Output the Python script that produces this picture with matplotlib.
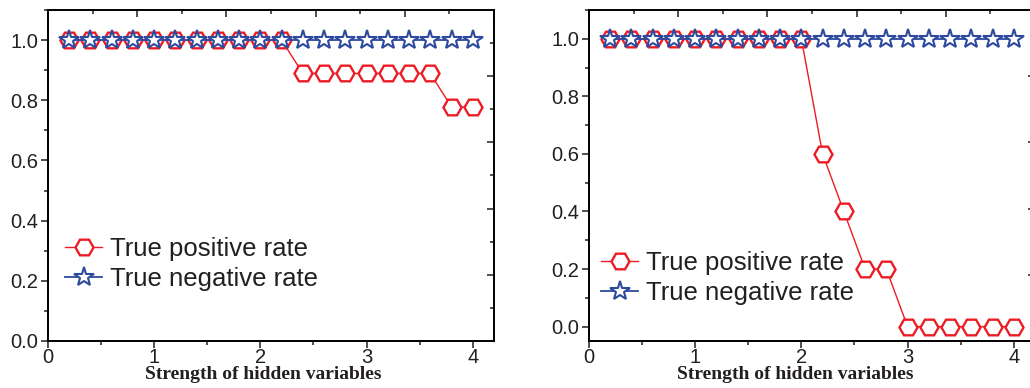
import matplotlib
matplotlib.use('Agg')
from matplotlib import pyplot as plt
from matplotlib.ticker import MultipleLocator

# data
strength = [0.2, 0.4, 0.6, 0.8, 1.0, 1.2, 1.4, 1.6, 1.8, 2.0,
            2.2, 2.4, 2.6, 2.8, 3.0, 3.2, 3.4, 3.6, 3.8, 4.0]
tpr_left = [1, 1, 1, 1, 1, 1, 1, 1, 1, 1,
            1, 0.889, 0.889, 0.889, 0.889, 0.889, 0.889, 0.889, 0.778, 0.778]
tnr_left = [1.0] * 20
tpr_right = [1, 1, 1, 1, 1, 1, 1, 1, 1, 1,
             0.6, 0.4, 0.2, 0.2, 0, 0, 0, 0, 0, 0]
tnr_right = [1.0] * 20

RED = '#ED1C24'
BLUE = '#2E4A9E'
INK = '#231F20'

plt.rcParams['font.family'] = ['Liberation Sans', 'DejaVu Sans']
plt.rcParams['axes.linewidth'] = 1.1
plt.rcParams['text.color'] = INK

fig = plt.figure(figsize=(10.3, 3.88), dpi=100)
W, H = 1030.0, 388.0
ax1 = fig.add_axes([48 / W, 47 / H, 446 / W, 331 / H])
ax2 = fig.add_axes([589 / W, 47 / H, 446 / W, 331 / H])


def draw(ax, tpr, tnr, ylim, xlab_x, leg_xy):
    ax.plot(strength, tpr, color=RED, lw=1.0, marker='H', ms=13,
            mfc='white', mec=RED, mew=1.7, label='True positive rate')
    ax.plot(strength, tnr, color=BLUE, lw=1.3, marker='*', ms=14.5,
            mfc='white', mec=BLUE, mew=1.5, label='True negative rate')
    ax.set_xlim(0, 4.2)
    ax.set_ylim(*ylim)
    ax.xaxis.set_major_locator(MultipleLocator(1))
    ax.xaxis.set_minor_locator(MultipleLocator(0.5))
    ax.yaxis.set_major_locator(MultipleLocator(0.2))
    ax.yaxis.set_minor_locator(MultipleLocator(0.1))
    ax.yaxis.set_major_formatter(plt.FormatStrFormatter('%.1f'))
    ax.tick_params(which='major', direction='out', length=5, width=1.1,
                   labelsize=14.5, labelcolor=INK, color=INK, pad=2)
    ax.tick_params(which='minor', direction='out', length=3, width=1.1,
                   color=INK)
    ax.tick_params(axis='x', which='major', pad=0)
    for s in ax.spines.values():
        s.set_color(INK)
    ax.set_xlabel('Strength of hidden variables', family='Liberation Serif',
                  fontweight='bold', fontsize=14, color=INK)
    ax.xaxis.set_label_coords(xlab_x, -0.076)

    # mirror axes on top and right with plain 10-step ticks
    top = ax.twiny()
    top.set_xlim(0, 1)
    top.xaxis.set_major_locator(MultipleLocator(0.2))
    top.xaxis.set_minor_locator(MultipleLocator(0.1))
    top.tick_params(which='major', direction='in', length=5, width=1.1,
                    labeltop=False, color=INK)
    top.tick_params(which='minor', direction='in', length=3, width=1.1,
                    color=INK)
    right = ax.twinx()
    right.set_ylim(0, 1)
    right.yaxis.set_major_locator(MultipleLocator(0.2))
    right.yaxis.set_minor_locator(MultipleLocator(0.1))
    right.tick_params(which='major', direction='in', length=5, width=1.1,
                      labelright=False, color=INK)
    right.tick_params(which='minor', direction='in', length=3, width=1.1,
                      color=INK)

    ax.legend(loc='center left', bbox_to_anchor=leg_xy, frameon=False,
              fontsize=18.5, handlelength=1.45, handletextpad=0.3,
              labelspacing=0.25, borderpad=0, borderaxespad=0,
              labelcolor=INK)


draw(ax1, tpr_left, tnr_left, (0, 1.1), 0.482, (0.038, 0.233))
draw(ax2, tpr_right, tnr_right, (-0.05, 1.1), 0.4626, (0.027, 0.19))

fig.savefig('out.png', dpi=100)
